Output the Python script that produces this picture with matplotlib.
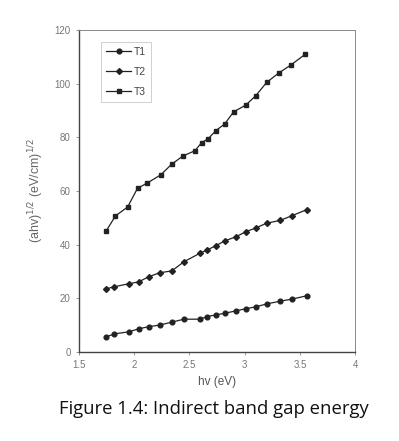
import matplotlib
matplotlib.use('Agg')
import matplotlib.pyplot as plt

# photon energy (eV), shared by the three samples
hv = [1.745, 1.82, 1.95, 2.04, 2.13, 2.23, 2.34, 2.45, 2.60, 2.66,
      2.74, 2.82, 2.92, 3.01, 3.10, 3.20, 3.32, 3.43, 3.56]
hv_t3 = [1.745, 1.83, 1.94, 2.03, 2.12, 2.24, 2.34, 2.44, 2.55, 2.61,
         2.67, 2.74, 2.82, 2.90, 3.01, 3.10, 3.20, 3.31, 3.42, 3.55]

t1 = [5.6, 6.7, 7.5, 8.6, 9.4, 10.0, 11.1, 12.2, 12.2, 13.2,
      13.8, 14.4, 15.3, 16.1, 16.8, 17.9, 18.9, 19.7, 20.9]
t2 = [23.5, 24.3, 25.4, 26.1, 28.0, 29.5, 30.2, 33.6, 36.9, 38.0,
      39.6, 41.4, 42.9, 44.8, 46.2, 48.0, 49.0, 50.8, 53.0]
t3 = [45.0, 50.7, 54.0, 61.0, 63.0, 66.0, 70.0, 73.0, 75.0, 78.0,
      79.5, 82.5, 85.0, 89.5, 92.0, 95.5, 100.5, 104.0, 107.0, 111.0]

xticks = [1.5, 2, 2.5, 3, 3.5, 4]
yticks = [0, 20, 40, 60, 80, 100, 120]

plt.rcParams['font.family'] = ['Liberation Sans', 'DejaVu Sans']

fig = plt.figure(figsize=(3.99, 4.41), dpi=100)
ax = fig.add_axes([0.198, 0.202, 0.692, 0.730])

ink = '#222222'
ax.plot(hv, t1, '-o', color=ink, lw=0.9, ms=3.4, label='T1')
ax.plot(hv, t2, '-D', color=ink, lw=0.9, ms=3.0, label='T2')
ax.plot(hv_t3, t3, '-s', color=ink, lw=0.9, ms=3.5, label='T3')

ax.set_xlim(1.5, 4)
ax.set_ylim(0, 120)
ax.set_xticks(xticks)
ax.set_xticklabels(['1.5', '2', '2.5', '3', '3.5', '4'])
ax.set_yticks(yticks)
ax.tick_params(labelsize=7, colors='#888888', labelcolor='#777777',
               direction='out', length=2.5, width=0.6)
for side in ['left', 'bottom']:
    ax.spines[side].set_color('#444444')
    ax.spines[side].set_linewidth(1.0)
for side in ['top', 'right']:
    ax.spines[side].set_color('#888888')
    ax.spines[side].set_linewidth(0.7)

ax.set_xlabel('hv (eV)', fontsize=8.5, color='#555555', labelpad=4)
ax.set_ylabel('(ahv)$^{1/2}$ (eV/cm)$^{1/2}$', fontsize=9, color='#666666', labelpad=6)

leg = ax.legend(loc='upper left', bbox_to_anchor=(0.08, 0.963), fontsize=7.5,
                frameon=True, fancybox=False, handlelength=2.4,
                labelspacing=0.95, borderpad=0.5, handletextpad=0.2,
                borderaxespad=0.0)
leg.get_frame().set_edgecolor('#bbbbbb')
leg.get_frame().set_linewidth(0.6)
for t in leg.get_texts():
    t.set_color('#444444')

fig.text(0.535, 0.073, 'Figure 1.4: Indirect band gap energy', ha='center', va='center',
         fontsize=13.3, color='#111111', family=['Open Sans', 'DejaVu Sans'])

fig.savefig('out.png', dpi=100)
